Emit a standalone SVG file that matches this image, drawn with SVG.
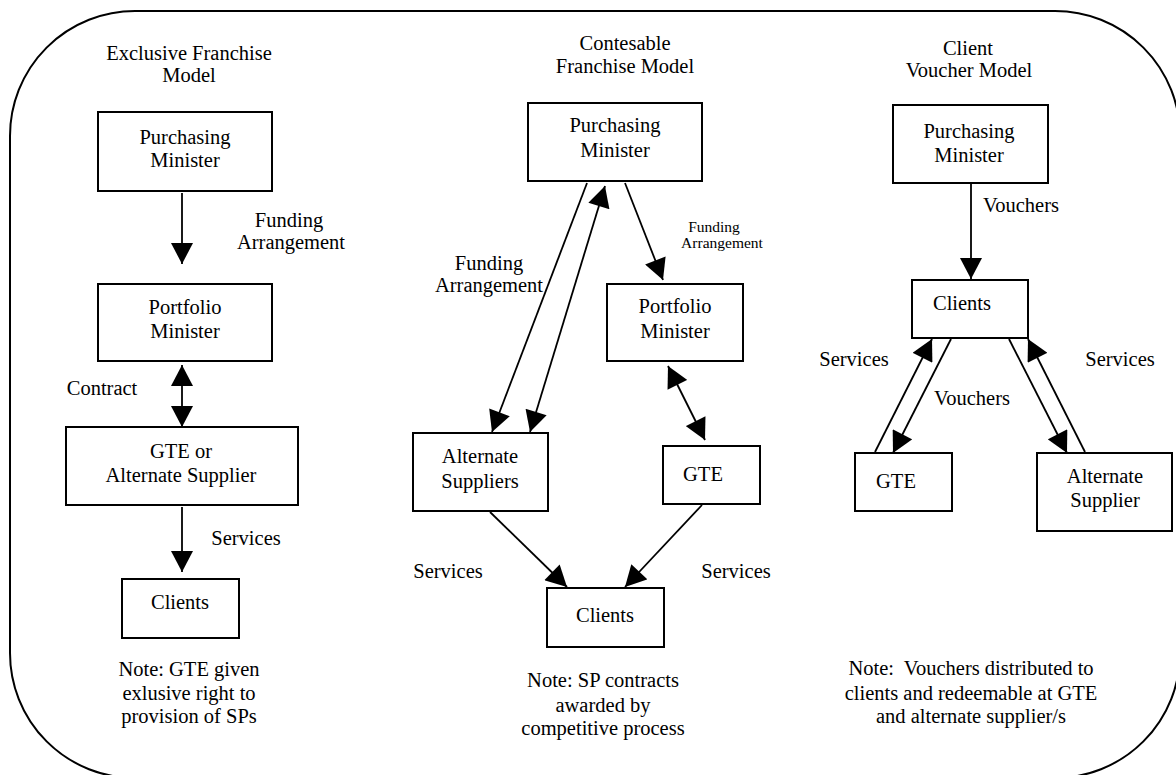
<svg xmlns="http://www.w3.org/2000/svg" width="1176" height="775" viewBox="0 0 1176 775">
  <defs>
    <style>
      .frame { fill: none; stroke: #000; stroke-width: 2; }
      .box { fill: #fff; stroke: #000; stroke-width: 2; }
      text { font-family: 'Liberation Serif', 'DejaVu Serif', serif; fill: #000; text-anchor: middle; }
      .t { font-size: 20.5px; }
      .ts { font-size: 15.5px; }
      .link { fill: none; stroke: #000; stroke-width: 1.8; }
      .one { marker-end: url(#head); }
      .two { marker-start: url(#head); marker-end: url(#head); }
    </style>
    <marker id="head" markerUnits="userSpaceOnUse" markerWidth="22" markerHeight="22" viewBox="0 0 20 21" refX="20" refY="10.5" orient="auto-start-reverse">
      <path d="M0,0 L20,10.5 L0,21 Z" fill="#000"/>
    </marker>
  </defs>

  <rect width="1176" height="775" fill="#fff"/>
  <rect class="frame" x="10" y="11" width="1170" height="767" rx="125" ry="125"/>

  <g font-family="Liberation Serif, serif">
  <!-- column titles -->
  <g id="title-exclusive">
    <text class="t" x="189" y="60">Exclusive Franchise</text>
    <text class="t" x="189" y="82">Model</text>
  </g>
  <g id="title-contestable">
    <text class="t" x="625" y="50">Contesable</text>
    <text class="t" x="625" y="73">Franchise Model</text>
  </g>
  <g id="title-voucher">
    <text class="t" x="968" y="55">Client</text>
    <text class="t" x="969" y="77">Voucher Model</text>
  </g>

  <!-- connectors -->
  <g id="connectors">
    <line class="link one" x1="182" y1="193" x2="182" y2="264"/>
    <line class="link two" x1="182" y1="365" x2="182" y2="427"/>
    <line class="link one" x1="182" y1="507" x2="182" y2="572"/>

    <line class="link one" x1="587" y1="183" x2="492" y2="432"/>
    <line class="link two" x1="530" y1="432" x2="605" y2="186"/>
    <line class="link one" x1="625" y1="183" x2="663" y2="280"/>
    <line class="link two" x1="668" y1="366" x2="705" y2="440"/>
    <line class="link one" x1="490" y1="512" x2="567" y2="587"/>
    <line class="link one" x1="702" y1="505" x2="625" y2="587"/>

    <line class="link one" x1="971" y1="184" x2="971" y2="279"/>
    <line class="link one" x1="875" y1="452" x2="932" y2="339"/>
    <line class="link one" x1="951" y1="339" x2="893" y2="453"/>
    <line class="link one" x1="1009" y1="339" x2="1067" y2="453"/>
    <line class="link one" x1="1085" y1="452" x2="1028" y2="339"/>
  </g>

  <!-- connector labels -->
  <g id="labels">
    <text class="t" x="289" y="227">Funding</text>
    <text class="t" x="291" y="249">Arrangement</text>
    <text class="t" x="102" y="395">Contract</text>
    <text class="t" x="246" y="545">Services</text>

    <text class="t" x="489" y="270">Funding</text>
    <text class="t" x="489" y="292">Arrangement</text>
    <text class="ts" x="714" y="232">Funding</text>
    <text class="ts" x="722" y="248">Arrangement</text>
    <text class="t" x="448" y="578">Services</text>
    <text class="t" x="736" y="578">Services</text>

    <text class="t" x="1021" y="212">Vouchers</text>
    <text class="t" x="854" y="366">Services</text>
    <text class="t" x="972" y="405">Vouchers</text>
    <text class="t" x="1120" y="366">Services</text>
  </g>

  <!-- Exclusive Franchise Model -->
  <g id="ex-purchasing">
    <rect class="box" x="98" y="112" width="174" height="79"/>
    <text class="t" x="185" y="144">Purchasing</text>
    <text class="t" x="185" y="167">Minister</text>
  </g>
  <g id="ex-portfolio">
    <rect class="box" x="98" y="284" width="174" height="77"/>
    <text class="t" x="185" y="314">Portfolio</text>
    <text class="t" x="185" y="338">Minister</text>
  </g>
  <g id="ex-supplier">
    <rect class="box" x="66" y="427" width="232" height="78"/>
    <text class="t" x="181" y="458">GTE or</text>
    <text class="t" x="181" y="482">Alternate Supplier</text>
  </g>
  <g id="ex-clients">
    <rect class="box" x="122" y="579" width="117" height="59"/>
    <text class="t" x="180" y="609">Clients</text>
  </g>
  <g id="ex-note">
    <text class="t" x="189" y="676">Note: GTE given</text>
    <text class="t" x="189" y="700">exlusive right to</text>
    <text class="t" x="189" y="723">provision of SPs</text>
  </g>

  <!-- Contesable Franchise Model -->
  <g id="co-purchasing">
    <rect class="box" x="528" y="103" width="174" height="78"/>
    <text class="t" x="615" y="132">Purchasing</text>
    <text class="t" x="615" y="157">Minister</text>
  </g>
  <g id="co-portfolio">
    <rect class="box" x="607" y="284" width="136" height="77"/>
    <text class="t" x="675" y="313">Portfolio</text>
    <text class="t" x="675" y="338">Minister</text>
  </g>
  <g id="co-alternate">
    <rect class="box" x="413" y="433" width="135" height="78"/>
    <text class="t" x="480" y="463">Alternate</text>
    <text class="t" x="480" y="488">Suppliers</text>
  </g>
  <g id="co-gte">
    <rect class="box" x="663" y="446" width="97" height="58"/>
    <text class="t" x="703" y="481">GTE</text>
  </g>
  <g id="co-clients">
    <rect class="box" x="547" y="588" width="117" height="59"/>
    <text class="t" x="605" y="622">Clients</text>
  </g>
  <g id="co-note">
    <text class="t" x="603" y="687">Note: SP contracts</text>
    <text class="t" x="603" y="712">awarded by</text>
    <text class="t" x="603" y="735">competitive process</text>
  </g>

  <!-- Client Voucher Model -->
  <g id="vo-purchasing">
    <rect class="box" x="893" y="105" width="155" height="78"/>
    <text class="t" x="969" y="138">Purchasing</text>
    <text class="t" x="969" y="162">Minister</text>
  </g>
  <g id="vo-clients">
    <rect class="box" x="912" y="280" width="116" height="58"/>
    <text class="t" x="962" y="310">Clients</text>
  </g>
  <g id="vo-gte">
    <rect class="box" x="855" y="453" width="97" height="58"/>
    <text class="t" x="896" y="488">GTE</text>
  </g>
  <g id="vo-alternate">
    <rect class="box" x="1037" y="453" width="135" height="78"/>
    <text class="t" x="1105" y="483">Alternate</text>
    <text class="t" x="1105" y="507">Supplier</text>
  </g>
  <g id="vo-note">
    <text class="t" x="971" y="675" xml:space="preserve">Note:  Vouchers distributed to</text>
    <text class="t" x="971" y="700">clients and redeemable at GTE</text>
    <text class="t" x="971" y="723">and alternate supplier/s</text>
  </g>
  </g>
</svg>
